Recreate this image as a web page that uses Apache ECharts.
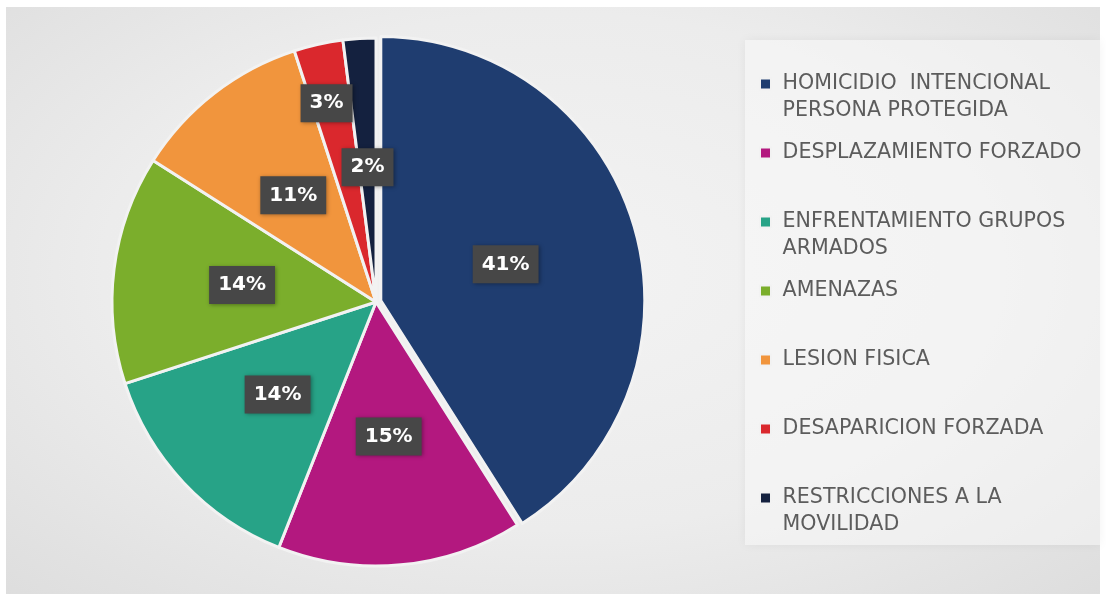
<!DOCTYPE html>
<html>
<head>
<meta charset="utf-8">
<script src="https://cdn.jsdelivr.net/npm/echarts@6/dist/echarts.min.js"></script>
<style>
  body { margin: 0; background: #ffffff; }
  #bg {
    position: absolute; left: 6px; top: 7px; width: 1094px; height: 587px;
    background: radial-gradient(ellipse 75% 80% at 50% 45%, #f3f3f3 0%, #ececec 55%, #dcdcdc 100%);
  }
  #panel {
    position: absolute; left: 745px; top: 40px; width: 355px; height: 505px;
    background: rgba(250,250,250,0.5);
    box-shadow: 0 0 10px rgba(0,0,0,0.05);
  }
  #chart { position: absolute; left: 0; top: 0; width: 1106px; height: 594px; }
</style>
</head>
<body>
<div id="bg"></div>
<div id="panel"></div>
<div id="chart"></div>
<script>
var categories = [
  'HOMICIDIO  INTENCIONAL PERSONA PROTEGIDA',
  'DESPLAZAMIENTO FORZADO',
  'ENFRENTAMIENTO GRUPOS ARMADOS',
  'AMENAZAS',
  'LESION FISICA',
  'DESAPARICION FORZADA',
  'RESTRICCIONES A LA MOVILIDAD'
];
var legendLines = [
  ['HOMICIDIO  INTENCIONAL', 'PERSONA PROTEGIDA'],
  ['DESPLAZAMIENTO FORZADO'],
  ['ENFRENTAMIENTO GRUPOS', 'ARMADOS'],
  ['AMENAZAS'],
  ['LESION FISICA'],
  ['DESAPARICION FORZADA'],
  ['RESTRICCIONES A LA', 'MOVILIDAD']
];
var values = [41, 15, 14, 14, 11, 3, 2];
var colors = ['#1f3d70', '#b3187f', '#27a387', '#7bae2c', '#f1953d', '#da282d', '#14213f'];

var chart = echarts.init(document.getElementById('chart'));

var pieData = categories.map(function (name, i) {
  var item = { name: name, value: values[i], itemStyle: { color: colors[i] } };
  if (i === 0) item.selected = true;
  return item;
});
var labelData = categories.map(function (name, i) {
  return { name: name, value: values[i] };
});

// one legend per item so the spacing stays even like the original
var lineH = 27;
var legends = categories.map(function (name, i) {
  var lines = legendLines[i];
  var twoLines = lines.length > 1;
  var firstLineCenter = 84 + i * 69;
  // a leading empty line keeps the square next to the first text line
  var text = (twoLines ? '\n' : '') + lines.map(function (s) { return ' ' + s; }).join('\n');
  return {
    data: [name],
    orient: 'vertical',
    left: 759,
    top: firstLineCenter - (twoLines ? lineH * 1.5 : lineH / 2),
    padding: 0,
    itemWidth: 11,
    itemHeight: 11,
    itemGap: 0,
    icon: 'rect',
    selectedMode: false,
    formatter: function () { return text; },
    textStyle: {
      fontFamily: 'DejaVu Sans',
      fontSize: 20.6,
      color: '#5c5c5c',
      lineHeight: lineH
    }
  };
});

var option = {
  animation: false,
  legend: legends,
  series: [{
    type: 'pie',
    center: [376, 302],
    radius: 264,
    startAngle: 90,
    clockwise: true,
    selectedMode: 'single',
    selectedOffset: 5,
    select: { itemStyle: {} },
    itemStyle: { borderColor: '#f2f2f2', borderWidth: 3 },
    label: { show: false },
    labelLine: { show: false },
    data: pieData
  }, {
    // same slices again, transparent, only to draw the labels on top
    type: 'pie',
    z: 5,
    silent: true,
    legendHoverLink: false,
    center: [376, 302],
    radius: 264,
    startAngle: 90,
    clockwise: true,
    itemStyle: { color: 'transparent', borderWidth: 0 },
    label: {
      position: 'inside',
      formatter: '{c}%',
      fontFamily: 'DejaVu Sans',
      fontWeight: 'bold',
      fontSize: 20,
      lineHeight: 20,
      color: '#ffffff',
      backgroundColor: '#474747',
      padding: [9, 9],
      shadowBlur: 4,
      shadowColor: 'rgba(0,0,0,0.35)',
      shadowOffsetX: 1,
      shadowOffsetY: 1
    },
    labelLine: { show: false },
    labelLayout: function (params) {
      // the 3% label was dragged outward in the original
      if (params.dataIndex === 5) return { dx: -20, dy: -67 };
      return {};
    },
    data: labelData
  }]
};

chart.setOption(option);
</script>
</body>
</html>
